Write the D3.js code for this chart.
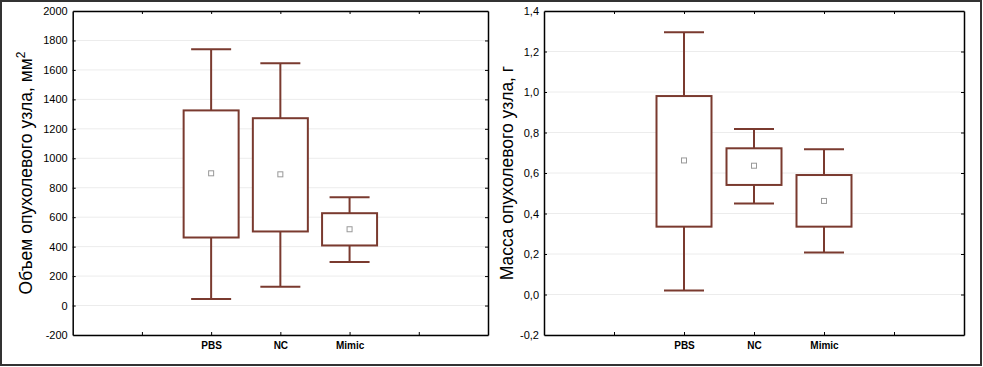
<!DOCTYPE html>
<html>
<head>
<meta charset="utf-8">
<script src="https://cdn.jsdelivr.net/npm/d3@7"></script>
<style>
  body { margin: 0; background: #fff; }
  svg { display: block; font-family: "Liberation Sans", Arial, sans-serif; }
</style>
</head>
<body>
<svg id="chart" width="983" height="367"></svg>
<script>
// группы (крайние позиции оси пустые)
const slotLabels = ['', 'PBS', 'NC', 'Mimic', ''];
const groups = ['PBS', 'NC', 'Mimic'];

// объем опухолевого узла, мм2
const volumeMax = [1740, 1645, 735];
const volumeQ3 = [1325, 1272, 627];
const volumeQ1 = [462, 503, 408];
const volumeMin = [45, 127, 296];
const volumeMean = [898, 891, 518];
const volumeTicks = [-200, 0, 200, 400, 600, 800, 1000, 1200, 1400, 1600, 1800, 2000];

// масса опухолевого узла, г
const massMax = [1.295, 0.817, 0.717];
const massQ3 = [0.98, 0.722, 0.59];
const massQ1 = [0.335, 0.541, 0.335];
const massMin = [0.02, 0.45, 0.208];
const massMean = [0.662, 0.636, 0.462];
const massTicks = [-0.2, 0, 0.2, 0.4, 0.6, 0.8, 1.0, 1.2, 1.4];

const svg = d3.select('#chart');
const boxColor = '#7a3a2f';

// рамка вокруг всего рисунка
svg.append('rect')
  .attr('x', 1).attr('y', 1)
  .attr('width', 980).attr('height', 364)
  .attr('fill', 'none')
  .attr('stroke', '#333')
  .attr('stroke-width', 2);

function panel(opt) {
  const { x0, x1, y0, y1, ticks, fmt, label, labelX, stats } = opt;
  const g = svg.append('g');

  const x = d3.scalePoint().domain(d3.range(slotLabels.length)).range([x0, x1]).padding(1);
  const y = d3.scaleLinear().domain([ticks[0], ticks[ticks.length - 1]]).range([y1, y0]);

  // сетка
  g.selectAll('.grid')
    .data(ticks)
    .join('line')
    .attr('x1', x0).attr('x2', x1)
    .attr('y1', d => y(d)).attr('y2', d => y(d))
    .attr('stroke', '#ececec')
    .attr('stroke-width', 1);

  // оси
  const left = g.append('g').attr('transform', `translate(${x0},0)`)
    .call(d3.axisLeft(y).tickValues(ticks).tickFormat(fmt).tickSizeInner(-3).tickSizeOuter(0).tickPadding(5));
  const right = g.append('g').attr('transform', `translate(${x1},0)`)
    .call(d3.axisRight(y).tickValues(ticks).tickFormat('').tickSizeInner(-3).tickSizeOuter(0));
  const bottom = g.append('g').attr('transform', `translate(0,${y1})`)
    .call(d3.axisBottom(x).tickFormat(i => slotLabels[i]).tickSizeInner(-3).tickSizeOuter(0).tickPadding(7));
  const top = g.append('g').attr('transform', `translate(0,${y0})`)
    .call(d3.axisTop(x).tickFormat('').tickSizeInner(-3).tickSizeOuter(0));

  [left, right, bottom, top].forEach(a => {
    a.select('.domain').attr('stroke', '#000').attr('stroke-width', 1.5);
    a.selectAll('.tick line').attr('stroke', '#000');
  });
  left.selectAll('text').attr('font-size', 11).attr('fill', '#000')
    .attr('font-family', '"Liberation Sans", Arial, sans-serif');
  bottom.selectAll('text').attr('font-size', 10).attr('font-weight', 'bold').attr('fill', '#000')
    .attr('font-family', '"Liberation Sans", Arial, sans-serif');
  // убрать засечки на углах
  left.selectAll('.tick').filter(d => d === ticks[0] || d === ticks[ticks.length - 1]).select('line').remove();
  right.selectAll('.tick').filter(d => d === ticks[0] || d === ticks[ticks.length - 1]).select('line').remove();

  const data = groups.map((name, i) => ({
    slot: slotLabels.indexOf(name),
    max: stats.max[i], q3: stats.q3[i], q1: stats.q1[i], min: stats.min[i], mean: stats.mean[i]
  }));

  const boxW = 55, capW = 40;
  const box = g.selectAll('.box').data(data).join('g').attr('class', 'box');

  box.append('line')
    .attr('x1', d => x(d.slot)).attr('x2', d => x(d.slot))
    .attr('y1', d => y(d.max)).attr('y2', d => y(d.q3))
    .attr('stroke', boxColor).attr('stroke-width', 2);
  box.append('line')
    .attr('x1', d => x(d.slot)).attr('x2', d => x(d.slot))
    .attr('y1', d => y(d.q1)).attr('y2', d => y(d.min))
    .attr('stroke', boxColor).attr('stroke-width', 2);
  ['max', 'min'].forEach(k => {
    box.append('line')
      .attr('x1', d => x(d.slot) - capW / 2).attr('x2', d => x(d.slot) + capW / 2)
      .attr('y1', d => y(d[k])).attr('y2', d => y(d[k]))
      .attr('stroke', boxColor).attr('stroke-width', 2);
  });
  box.append('rect')
    .attr('x', d => x(d.slot) - boxW / 2)
    .attr('y', d => y(d.q3))
    .attr('width', boxW)
    .attr('height', d => y(d.q1) - y(d.q3))
    .attr('fill', '#fff')
    .attr('stroke', boxColor).attr('stroke-width', 2);
  box.append('rect')
    .attr('x', d => x(d.slot) - 2.5)
    .attr('y', d => y(d.mean) - 2.5)
    .attr('width', 5).attr('height', 5)
    .attr('fill', '#fff')
    .attr('stroke', '#999').attr('stroke-width', 1);

  // подпись оси Y
  g.append('text')
    .attr('transform', `translate(${labelX},${(y0 + y1) / 2}) rotate(-90)`)
    .attr('text-anchor', 'middle')
    .attr('font-size', 17.5)
    .attr('fill', '#000')
    .html(label);
}

panel({
  x0: 72.7, x1: 488, y0: 11, y1: 335,
  ticks: volumeTicks, fmt: d => String(d),
  label: 'Объем опухолевого узла, мм<tspan dy="-7" font-size="12">2</tspan>',
  labelX: 32,
  stats: { max: volumeMax, q3: volumeQ3, q1: volumeQ1, min: volumeMin, mean: volumeMean }
});

panel({
  x0: 544, x1: 964, y0: 11, y1: 335,
  ticks: massTicks, fmt: d => d.toFixed(1).replace('.', ','),
  label: 'Масса опухолевого узла, г',
  labelX: 513,
  stats: { max: massMax, q3: massQ3, q1: massQ1, min: massMin, mean: massMean }
});
</script>
</body>
</html>
